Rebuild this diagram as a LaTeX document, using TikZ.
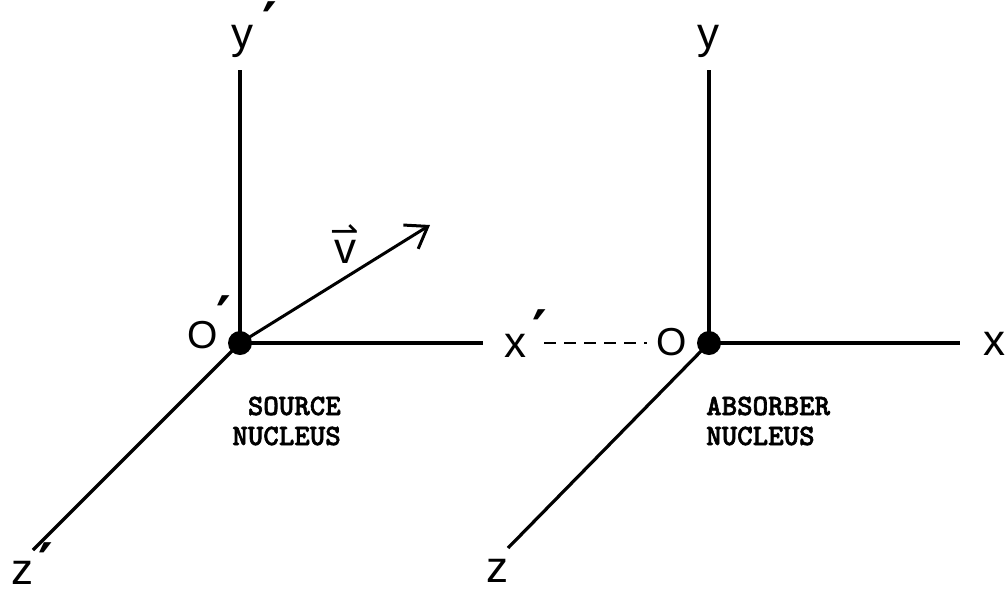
\documentclass[tikz,border=0pt]{standalone}
\usepackage{fontspec}
\setmainfont{Liberation Sans}
\newfontfamily\dv{DejaVu Sans}
\newfontfamily\twf{lmmonolt10-bold.otf}[FakeBold=2]
\usetikzlibrary{arrows.meta}
% #1 = kern before prime, #2 = height of the prime's top above the baseline
\newcommand\pr[2]{\kern#1pt\raisebox{\dimexpr#2pt-\height\relax}[0pt][0pt]{\dv\bfseries\fontsize{56}{56}\selectfont ′}}
\tikzset{
  axis/.style={line width=3.2pt},
  dot/.style={circle, fill=black, inner sep=0pt, minimum size=24pt},
  lab/.style={inner sep=0pt, font=\fontsize{44}{44}\selectfont},
  olab/.style={inner sep=0pt, font=\fontsize{39}{39}\selectfont},
  tw/.style={inner sep=0pt, font=\twf\fontsize{29.5}{30}\selectfont},
  dashline/.style={line width=2.6pt, dash pattern=on 12pt off 8pt},
  varrow/.style={line width=3pt, -{Straight Barb[length=20pt,width=28pt]}}
}
\begin{document}
\begin{tikzpicture}[x=1pt,y=-1pt]
\useasboundingbox (0,0) rectangle (1005,590);
% coordinates
\coordinate (Opc) at (240,343);
\coordinate (Oc) at (709,343);
\coordinate (yptop) at (240,70);
\coordinate (xpend) at (483,343);
\coordinate (zpend) at (33,550);
\coordinate (ytop) at (709,70);
\coordinate (xend) at (960,343);
\coordinate (zend) at (508,548);
\coordinate (vtip) at (430,225);
% axes
\draw[axis] (Opc) -- (yptop);
\draw[axis] (Opc) -- (xpend);
\draw[axis] (Opc) -- (zpend);
\draw[axis] (Oc) -- (ytop);
\draw[axis] (Oc) -- (xend);
\draw[axis] (Oc) -- (zend);
\draw[varrow] (Opc) -- (vtip);
% dots
\node[dot] (Opdot) at (Opc) {};
\node[dot] (Odot) at (Oc) {};
% labels
\node[lab, anchor=base west] (yplab) at (231,48) {y\pr{9}{46}};
\node[lab, anchor=base] (ylab) at (708,48) {y};
\node[olab, anchor=base west] (Oplab) at (187,348) {O\pr{-1}{52}};
\node[olab, anchor=base] (Olab) at (672,355) {O};
\node[lab, anchor=base west] (xplab) at (504,357) {x\pr{6}{47}};
\node[lab, anchor=base] (xlab) at (994,355) {x};
\node[lab, anchor=base west] (zplab) at (11,584) {z\pr{5}{41}};
\node[lab, anchor=base] (zlab) at (497,582) {z};
\node[lab, anchor=base] (vlab) at (345,263) {\rlap{\makebox[22pt][c]{\raisebox{21pt}[0pt][0pt]{\dv\fontsize{34}{34}\selectfont ⇀}}}v};
\draw[dashline] ([xshift=-3pt]xplab.east |- Odot.center) -- ([xshift=-10pt]Olab.west |- Odot.center);
% captions
\node[tw, anchor=base east, align=right] (src) at (341,445) {SOURCE\\NUCLEUS};
\node[tw, anchor=base west, align=left] (abs) at (706,445) {ABSORBER\\NUCLEUS};
\end{tikzpicture}
\end{document}
